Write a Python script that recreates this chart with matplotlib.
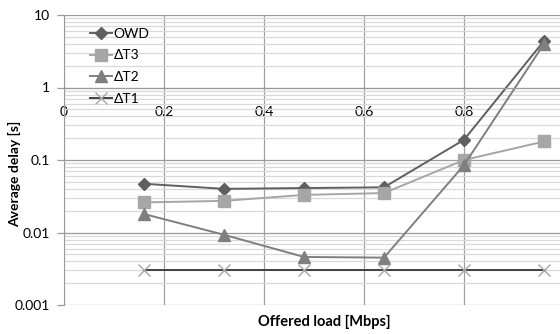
import numpy as np
from matplotlib import pyplot as plt
from matplotlib.ticker import LogLocator, FixedLocator, NullFormatter

plt.rcParams['font.family'] = ['Lato', 'DejaVu Sans']

load = [0.16, 0.32, 0.48, 0.64, 0.80, 0.96]
owd = [0.047, 0.040, 0.041, 0.042, 0.19, 4.4]
dt3 = [0.026, 0.0273, 0.033, 0.035, 0.10, 0.18]
dt2 = [0.018, 0.0093, 0.0046, 0.0045, 0.085, 4.0]
dt1 = [0.003, 0.003, 0.003, 0.003, 0.003, 0.003]
x_ticks = [0, 0.2, 0.4, 0.6, 0.8, 1.0]
y_ticks = [0.001, 0.01, 0.1, 1, 10]
y_labels = ['0.001', '0.01', '0.1', '1', '10']

fig = plt.figure(figsize=(5.6, 3.34), dpi=100)
# plot area runs a bit past the right edge, as in the source image
ax = fig.add_axes([64/560, 1 - 305/334, 500/560, 290/334])

ax.plot(load, owd, color='#5f5f5f', lw=1.4, marker='D', ms=6, label='OWD')
ax.plot(load, dt3, color='#a6a6a6', lw=1.4, marker='s', ms=8, label='ΔT3')
ax.plot(load, dt2, color='#7f7f7f', lw=1.4, marker='^', ms=8, label='ΔT2')
ax.plot(load, dt1, color='#404040', lw=1.4, marker='x', ms=9,
        mec='#a6a6a6', mew=1.0, label='ΔT1')

ax.set_yscale('log')
ax.set_ylim(0.001, 10)
ax.set_xlim(0, 1.0)
ax.yaxis.set_major_locator(FixedLocator(y_ticks))
ax.set_yticklabels(y_labels)
ax.yaxis.set_minor_locator(LogLocator(base=10, subs=np.arange(2, 10)))
ax.yaxis.set_minor_formatter(NullFormatter())
ax.set_xticks(x_ticks)
ax.set_xticklabels(['0', '0.2', '0.4', '0.6', '0.8', '1'])

ax.grid(True, which='major', axis='y', color='#9a9a9a', lw=0.9)
ax.grid(True, which='minor', axis='y', color='#d9d9d9', lw=0.9)
ax.grid(True, which='major', axis='x', color='#a0a0a0', lw=0.9)
ax.set_axisbelow(True)

ax.spines['top'].set_visible(False)
ax.spines['right'].set_visible(False)
ax.spines['left'].set_color('#9a9a9a')
ax.spines['bottom'].set_position(('data', 1))
ax.spines['bottom'].set_color('#9a9a9a')

ax.tick_params(axis='x', length=0, pad=13, labelsize=10, colors='#000000')
ax.tick_params(axis='y', which='major', length=5, width=0.9, color='#9a9a9a',
               pad=5, labelsize=10)
ax.tick_params(axis='y', which='minor', length=0)

leg = ax.legend(loc='upper left', bbox_to_anchor=(0.035, 0.985), frameon=False,
                fontsize=10, handlelength=1.6, handletextpad=0.1,
                labelspacing=0.7, borderaxespad=0.2)

fig.text(324/560, 1 - 322/334, 'Offered load [Mbps]', ha='center', va='center',
         fontsize=10.5, fontweight='bold')
fig.text(15/560, 1 - 174/334, 'Average delay [s]', ha='center', va='center',
         rotation=90, fontsize=10, fontweight='bold')

plt.savefig('out.png', dpi=100)
